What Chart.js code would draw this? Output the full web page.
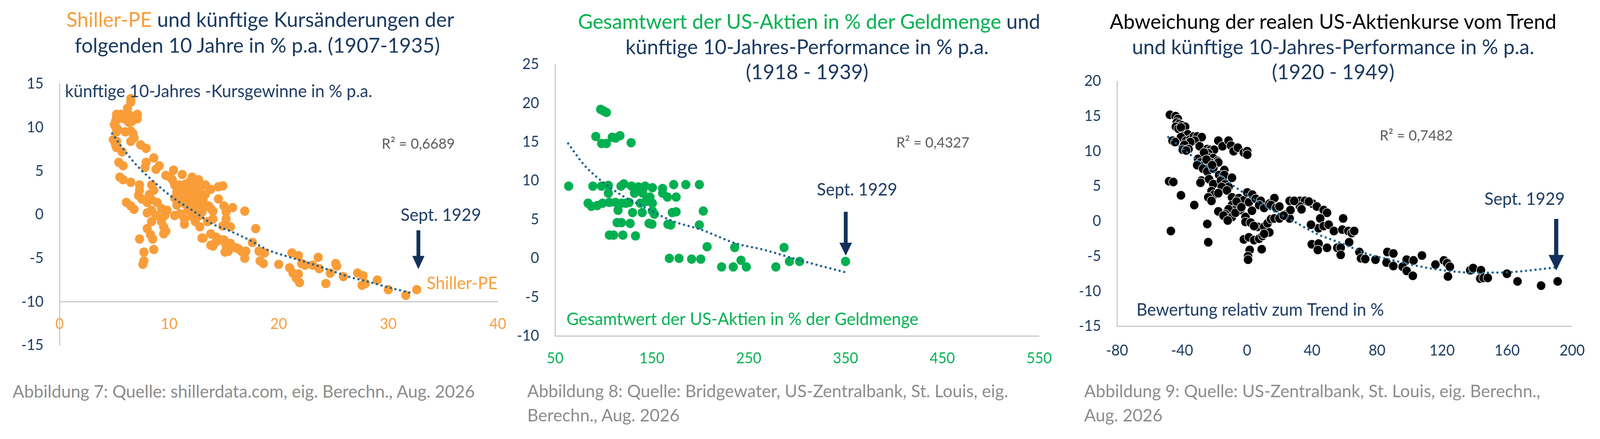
<!DOCTYPE html>
<html>
<head>
<meta charset="utf-8">
<script src="https://cdn.jsdelivr.net/npm/chart.js@4.4.1/dist/chart.umd.min.js"></script>
<style>
  html, body { margin: 0; padding: 0; overflow: hidden; background: #fff; }
  #page { position: absolute; left: 0; top: 0; width: 4191px; height: 1125px; background: #fff; transform-origin: 0 0; font-family: Lato, "Open Sans", sans-serif; }
  .title { position: absolute; text-align: center; font-size: 53px; line-height: 66px; color: #1b3a61; white-space: nowrap; }
  .cap { position: absolute; font-size: 45px; line-height: 62px; color: #8c8c8c; white-space: nowrap; }
  canvas { position: absolute; }
</style>
</head>
<body>
<div id="page">
<div class="title" style="left:174px;width:1000px;top:16px"><span style="color:#f99d39">Shiller-PE</span> und künftige Kursänderungen der<br>folgenden 10 Jahre in % p.a. (1907-1935)</div>
<div class="title" style="left:1514px;width:1200px;top:22px;line-height:64.5px"><span style="color:#00b050">Gesamtwert der US-Aktien in % der Geldmenge</span> und<br>künftige 10-Jahres-Performance in % p.a.<br>(1918 - 1939)</div>
<div class="title" style="left:2892px;width:1200px;top:22px;line-height:64.5px"><span style="color:#000">Abweichung der realen US-Aktienkurse vom Trend</span><br>und künftige 10-Jahres-Performance in % p.a.<br>(1920 - 1949)</div>

<canvas id="peChart" width="1360" height="800" style="left:0px;top:150px"></canvas>
<canvas id="moneyChart" width="1450" height="880" style="left:1340px;top:100px"></canvas>
<canvas id="trendChart" width="1391" height="880" style="left:2800px;top:100px"></canvas>

<div class="cap" style="left:33px;top:971px">Abbildung 7: Quelle: shillerdata.com, eig. Berechn., Aug. 2026</div>
<div class="cap" style="left:1381px;top:970px">Abbildung 8: Quelle: Bridgewater, US-Zentralbank, St. Louis, eig.<br>Berechn., Aug. 2026</div>
<div class="cap" style="left:2840px;top:970px">Abbildung 9: Quelle: US-Zentralbank, St. Louis, eig. Berechn.,<br>Aug. 2026</div>
</div>

<script>
// the window can be narrower than the 4191px layout, so squeeze it to fit
const page = document.getElementById('page');
const fitX = Math.min(1, window.innerWidth / 4191);
page.style.transform = 'scale(' + fitX + ', 1)';

// Abb. 7: Shiller-PE (x) vs. künftige 10-Jahres-Kursgewinne in % p.a. (y)
const pePoints = [
  [6.5,13.3],[6.5,12.9],[6.2,12.2],[5.2,11.5],[5.6,11.5],[5.1,10.7],[5.0,10.3],[5.2,11.2],[5.4,11.0],[5.8,11.1],
  [6.0,11.2],[6.4,11.4],[6.7,11.2],[7.1,11.5],[7.1,11.0],[6.6,10.7],[6.3,10.6],[5.9,11.0],[5.3,9.8],[5.2,9.5],
  [5.1,10.1],[6.0,9.5],[6.5,9.6],[6.7,9.3],[6.8,8.8],[6.5,8.4],[4.9,8.6],[5.2,8.4],[5.1,8.0],[5.2,7.7],
  [5.7,7.2],[5.4,6.0],[5.8,5.6],[7.4,8.0],[7.9,7.6],[8.6,6.5],[7.9,6.0],[7.8,5.4],[8.8,5.2],[9.1,5.6],
  [5.5,4.3],[5.8,4.0],[6.5,3.7],[7.3,3.4],[7.3,2.8],[7.2,2.2],[7.5,1.8],[8.0,1.4],[8.4,3.4],[8.6,2.8],
  [8.2,2.3],[8.4,1.7],[6.1,1.4],[6.5,1.0],[6.8,0.6],[8.0,0.2],[8.4,0.5],[8.8,-0.1],[8.4,-0.8],[8.0,-1.6],
  [8.3,-2.3],[8.5,-2.8],[7.3,-2.8],[7.7,-4.3],[8.6,-4.0],[7.7,-5.3],[7.6,-5.7],[8.9,1.4],[9.3,0.7],[9.8,0.5],
  [9.6,-0.1],[9.3,-0.8],[9.5,-1.4],[9.7,-1.9],[9.5,-2.2],[10.4,5.1],[9.7,4.5],[10.1,4.3],[11.2,4.6],[10.3,4.0],
  [12.1,4.3],[12.7,4.0],[13.3,3.4],[13.8,2.9],[14.5,3.2],[14.9,3.3],[10.5,3.4],[11.0,3.4],[11.5,3.5],[12.1,3.2],
  [12.6,3.4],[10.7,2.6],[11.4,2.8],[12.1,2.6],[12.8,2.6],[13.3,2.3],[10.5,1.9],[11.0,2.2],[11.7,2.0],[12.4,2.0],
  [13.1,1.7],[10.7,1.1],[11.4,1.3],[12.1,1.3],[12.9,1.1],[13.6,1.0],[13.8,0.7],[14.0,0.4],[11.7,0.5],[12.4,0.7],
  [11.0,0.1],[10.5,-0.1],[11.4,-0.5],[12.1,-0.2],[12.8,-0.1],[11.4,-1.1],[12.4,-0.8],[12.8,-1.4],[13.5,-0.8],[14.0,-0.5],
  [14.5,1.8],[15.0,1.0],[15.2,0.3],[15.8,0.8],[16.9,0.4],[15.2,-0.5],[14.9,-1.3],[15.6,-1.4],[13.1,-2.7],[13.8,-2.2],
  [14.3,-2.6],[13.8,-3.5],[14.7,-2.9],[15.0,-2.9],[15.2,-3.6],[15.6,-3.3],[16.1,-3.8],[16.6,-4.2],[17.0,-4.2],[16.9,-5.0],
  [15.4,-4.2],[14.3,-3.1],[14.0,-3.6],[13.0,-2.7],[16.3,-3.9],[15.1,-4.3],[11.9,3.8],[12.3,1.6],[11.1,1.6],[13.0,0.3],
  [17.9,-1.6],[17.6,-3.2],[18.2,-4.2],[18.7,-4.4],[18.3,-5.3],[18.6,-5.6],[20.0,-5.7],[21.2,-4.4],[21.8,-4.7],[21.0,-6.1],
  [21.3,-6.7],[21.8,-6.8],[21.6,-7.3],[21.9,-7.8],[22.1,-5.6],[22.4,-5.8],[23.1,-5.8],[23.6,-4.9],[23.7,-6.2],[24.3,-7.9],
  [24.7,-6.7],[25.2,-5.6],[25.3,-5.9],[25.9,-7.1],[27.2,-6.7],[27.7,-7.0],[27.6,-8.1],[27.9,-7.9],[29.0,-7.5],[30.0,-8.6],
  [31.6,-9.25],[32.6,-8.6]
];
const peTrendX = [4.8, 5.6, 6.4, 7.3, 8.4, 9.3, 10.5, 12.1, 14.0, 15.6, 17.3, 19.1, 20.8, 22.9, 25.2, 26.6, 28.2, 29.9, 32.3];
const peTrendY = [9.3, 7.9, 6.6, 5.3, 4.0, 3.0, 1.8, 0.5, -1.1, -1.9, -2.9, -4.1, -4.8, -5.6, -6.6, -7.2, -7.7, -8.3, -9.05];

// Abb. 8: Gesamtwert der US-Aktien in % der Geldmenge (x) vs. 10-Jahres-Performance (y)
const moneyPoints = [
  [64,9.3],[97,19.2],[100,19.0],[103,18.8],[92,15.7],[98,14.8],[103,14.8],[109,15.6],[112.5,15.5],[117,15.8],
  [128.5,14.9],[89,9.3],[98,9.3],[105,9.4],[105,8.4],[118,9.3],[121,9.6],[129,9.3],[132,8.4],[136,9.2],
  [140.5,8.4],[143,9.3],[150.5,9.1],[161,9.0],[161,8.4],[166,7.9],[172.5,9.5],[175,7.9],[185,9.5],[199,9.5],
  [84,7.1],[87.5,6.7],[93.5,6.8],[99,7.1],[106,7.2],[112.5,7.2],[118.5,7.1],[123,7.1],[126.5,7.2],[138,7.1],
  [143.5,7.3],[148,7.9],[150.5,7.1],[115,6.2],[130,5.9],[140,5.9],[150.5,6.1],[152.5,5.7],[171,5.9],[175,6.0],
  [203,6.1],[114,4.6],[118.5,4.6],[127.5,4.5],[147,4.5],[150,4.4],[166.5,4.4],[169.5,4.3],[199,4.3],[106,3.0],
  [110.5,3.0],[120,3.0],[133,2.9],[207,1.5],[235.5,1.4],[286.5,1.4],[168,0],[178,0],[191,-0.1],[200.5,-0.1],
  [222,-1.1],[234,-1.1],[242,-0.25],[247.5,-1.1],[278,-1.1],[292,-0.4],[302.5,-0.4],[350,-0.4]
];
const moneyTrendX = [63.5, 79.5, 93.7, 106.1, 120.3, 134.5, 155.8, 173.6, 198.4, 237.5, 265.9, 290.7, 319.2, 350];
const moneyTrendY = [14.8, 12.1, 10.4, 9.2, 8.0, 7.1, 5.7, 4.7, 3.8, 1.9, 1.1, 0.2, -0.8, -1.8];

// Abb. 9: Bewertung relativ zum Trend in % (x) vs. 10-Jahres-Performance (y)
const trendDevPoints = [
  [-47.5,15.2],[-44.0,15.0],[-42.6,14.6],[-43.3,14.1],[-41.7,13.9],[-40.1,13.7],[-38.1,13.5],[-43.8,13.5],[-42.2,13.2],[-40.7,13.4],
  [-39.4,12.2],[-36.5,12.4],[-40.7,12.0],[-37.5,11.5],[-34.9,11.7],[-32.8,12.1],[-30.7,12.1],[-27.9,12.0],[-32.3,11.5],[-34.9,11.3],
  [-45.9,11.5],[-44.3,11.3],[-38.6,10.9],[-36.0,10.3],[-39.6,10.2],[-37.5,10.1],[-29.2,10.7],[-24.5,10.3],[-22.4,10.2],[-20.3,10.2],
  [-17.7,11.5],[-15.1,10.7],[-11.4,11.5],[-9.9,10.8],[-8.3,10.0],[-5.7,10.5],[-2.0,9.8],[0.1,10.0],[0.1,9.5],[-23.9,9.7],
  [-26.0,9.3],[-23.4,9.1],[-20.8,9.0],[-18.2,8.6],[-30.2,8.9],[-28.7,8.4],[-26.0,8.2],[-22.9,8.4],[-19.8,8.0],[-17.7,8.4],
  [-30.7,8.0],[-27.1,7.5],[-24.5,7.1],[-20.8,7.5],[-14.0,7.3],[-17.2,6.6],[-14.0,6.6],[-9.3,6.2],[-28.1,5.8],[-28.7,5.5],
  [-23.4,6.0],[-20.8,5.3],[-16.1,5.8],[-13.5,5.3],[-11.4,4.9],[-15.6,4.9],[-12.4,4.4],[-21.9,4.3],[-20.3,3.8],[-23.9,3.4],
  [-21.9,2.9],[-17.7,4.0],[-48.0,5.7],[-45.4,5.6],[-40.7,3.7],[-32.5,2.3],[-24.5,-0.4],[-46.9,-1.4],[-23.9,-3.0],[-9.3,3.4],
  [-5.1,3.3],[-2.0,3.0],[1.1,2.7],[0.1,4.1],[3.2,3.8],[5.3,3.2],[8.4,2.9],[7.4,2.3],[10.5,1.9],[13.7,2.5],
  [16.8,3.3],[14.7,2.3],[17.9,1.9],[19.9,2.1],[-9.3,2.3],[-7.2,1.7],[-4.1,1.6],[-11.4,1.7],[-13.5,1.0],[-17.7,1.4],
  [-14.5,0.8],[-9.3,0.6],[-11.9,0.1],[-7.2,1.2],[-1.0,0.6],[-1.0,-0.1],[2.2,-0.2],[6.4,-0.8],[4.3,-0.7],[10.5,-0.8],
  [12.6,-0.3],[14.7,0.3],[16.8,0.4],[19.9,0.4],[24.1,1.0],[26.2,0.4],[26.7,1.6],[26.2,2.9],[32.5,2.9],[35.6,2.9],
  [32.5,2.1],[33.5,1.7],[40.3,2.5],[42.9,2.1],[47.1,1.6],[49.2,1.2],[45.0,0.4],[44.0,-1.0],[47.1,-0.7],[50.2,-0.5],
  [53.4,-1.4],[58.6,-1.2],[62.3,-1.4],[64.4,-1.7],[65.9,-1.4],[59.1,0.4],[-2.0,-2.6],[1.1,-2.3],[4.3,-2.7],[7.4,-2.5],
  [9.5,-2.1],[13.7,-1.6],[10.5,-1.8],[9.0,-4.0],[1.6,-4.1],[0.6,-5.0],[0.6,-5.5],[39.3,-0.5],[39.8,-3.3],[44.0,-3.2],
  [43.5,-4.1],[49.2,-3.8],[55.5,-3.8],[57.6,-3.8],[57.6,-4.8],[62.8,-3.0],[69.1,-4.4],[70.1,-5.3],[72.7,-5.4],[79.0,-5.5],
  [86.3,-4.4],[90.0,-4.6],[85.8,-5.9],[90.0,-6.4],[98.2,-5.5],[95.7,-6.5],[98.2,-7.1],[102.0,-7.8],[102.4,-5.6],[107.6,-4.9],
  [115.9,-6.2],[121.1,-5.6],[123.1,-6.0],[124.8,-6.5],[123.6,-7.9],[137.3,-7.0],[139.1,-6.7],[143.9,-7.0],[143.5,-8.2],[145.5,-8.1],
  [148.1,-8.1],[159.9,-7.5],[166.4,-8.6],[180.9,-9.2],[191.1,-8.6],
  [-26.5,9.8],[-25.0,8.8],[-21.5,8.0],[-6.5,2.8],[3.0,1.5],[-3.5,2.0],[22.5,0.8],[29.0,2.9],[38.0,2.8]
];
const trendDevTrendX = [-48.5, -35.5, -25, -16, -9.3, 1, 14.7, 26.2, 42.9, 58.6, 74.3, 90, 105, 120, 140, 160, 177, 190];
const trendDevTrendY = [12.0, 9.6, 7.8, 6.4, 5.2, 3.6, 1.65, 0.3, -1.8, -3.2, -4.7, -5.6, -6.4, -7.0, -7.35, -7.3, -6.95, -6.6];

const fontFam = 'Lato, "Open Sans", sans-serif';
const navy = '#1b3a61';
const arrowNavy = '#12315a';
const axisGray = '#bfbfbf';
const trendBlue = '#1d6390';
const orange = '#f99d39';
const green = '#00b050';

// draws the texts and the arrow at data coordinates
const notesPlugin = {
  id: 'notes',
  afterDatasetsDraw(chart, args, opts) {
    const ctx = chart.ctx;
    const sx = chart.scales.x;
    const sy = chart.scales.y;
    ctx.save();
    (opts.texts || []).forEach(t => {
      ctx.font = t.size + 'px ' + fontFam;
      ctx.fillStyle = t.color;
      ctx.textAlign = t.align || 'left';
      ctx.textBaseline = 'middle';
      ctx.fillText(t.text, sx.getPixelForValue(t.x), sy.getPixelForValue(t.y));
    });
    if (opts.arrow) {
      const a = opts.arrow;
      const ax = sx.getPixelForValue(a.x);
      const top = sy.getPixelForValue(a.top);
      const tip = sy.getPixelForValue(a.tip);
      ctx.fillStyle = arrowNavy;
      ctx.fillRect(ax - a.shaft / 2, top, a.shaft, tip - top - a.head + 2);
      ctx.beginPath();
      ctx.moveTo(ax - a.headW / 2, tip - a.head);
      ctx.lineTo(ax + a.headW / 2, tip - a.head);
      ctx.lineTo(ax, tip);
      ctx.closePath();
      ctx.fill();
    }
    ctx.restore();
  }
};

// x axis is always put at a y value, so it takes no layout room
function axisX(min, max, step, color, atY, pad) {
  return {
    type: 'linear',
    position: {y: atY},
    min: min,
    max: max,
    ticks: {stepSize: step, color: color, padding: pad, maxRotation: 0, autoSkip: false,
      font: {family: fontFam, size: 38}},
    grid: {display: false, drawTicks: false},
    border: {display: true, color: axisGray, width: 2.5}
  };
}

function axisY(min, max, step, w) {
  return {
    type: 'linear',
    position: 'left',
    min: min,
    max: max,
    ticks: {stepSize: step, color: navy, padding: 42, font: {family: fontFam, size: 38}},
    grid: {display: false, drawTicks: false},
    border: {display: true, color: axisGray, width: 2.5},
    afterFit: function (s) { s.width = w; }
  };
}

function pointSet(pts, color, edge) {
  return {
    type: 'scatter',
    data: pts.map(p => ({x: p[0], y: p[1]})),
    backgroundColor: color,
    borderColor: edge || color,
    borderWidth: edge ? 1.5 : 0,
    pointRadius: 12,
    pointHoverRadius: 12,
    order: 1
  };
}

function trendSet(xs, ys) {
  return {
    type: 'line',
    data: xs.map((x, i) => ({x: x, y: ys[i]})),
    borderColor: trendBlue,
    borderWidth: 6,
    borderDash: [0, 12.5],
    borderCapStyle: 'round',
    pointRadius: 0,
    fill: false,
    cubicInterpolationMode: 'monotone',
    order: 0
  };
}

function makeChart(id, datasets, scales, padding, notes) {
  return new Chart(document.getElementById(id).getContext('2d'), {
    type: 'scatter',
    data: {datasets: datasets},
    options: {
      responsive: false,
      animation: false,
      layout: {padding: padding},
      scales: scales,
      plugins: {legend: {display: false}, tooltip: {enabled: false}, notes: notes}
    },
    plugins: [notesPlugin]
  });
}

const peChart = makeChart('peChart',
  [trendSet(peTrendX, peTrendY), pointSet(pePoints, orange)],
  {x: axisX(0, 40, 10, orange, -10, 34), y: axisY(-15, 15, 5, 156)},
  {top: 47, bottom: 33, left: 0, right: 39},
  {
    texts: [
      {text: 'künftige 10-Jahres -Kursgewinne in % p.a.', x: 0.5, y: 14.1, size: 44, color: navy},
      {text: 'R² = 0,6689', x: 29.4, y: 8.1, size: 37, color: '#595959'},
      {text: 'Sept. 1929', x: 34.8, y: -0.1, size: 44, color: navy, align: 'center'},
      {text: 'Shiller-PE', x: 33.5, y: -7.9, size: 44, color: orange}
    ],
    arrow: {x: 32.75, top: -1.8, tip: -6.25, shaft: 10, head: 34, headW: 32}
  });

const moneyChart = makeChart('moneyChart',
  [trendSet(moneyTrendX, moneyTrendY), pointSet(moneyPoints, green)],
  {x: axisX(50, 550, 100, green, -10, 35), y: axisY(-10, 25, 5, 114)},
  {top: 35, bottom: 119, left: 0, right: 52},
  {
    texts: [
      {text: 'R² = 0,4327', x: 402.4, y: 14.9, size: 37, color: '#595959'},
      {text: 'Sept. 1929', x: 361.9, y: 8.8, size: 44, color: navy, align: 'center'},
      {text: 'Gesamtwert der US-Aktien in % der Geldmenge', x: 61.7, y: -7.9, size: 44, color: green}
    ],
    arrow: {x: 350.2, top: 6.0, tip: 0.36, shaft: 10, head: 33, headW: 33}
  });

const trendChart = makeChart('trendChart',
  [trendSet(trendDevTrendX, trendDevTrendY), pointSet(trendDevPoints, '#000000', '#ffffff')],
  {x: axisX(-80, 200, 40, navy, -15, 40), y: axisY(-15, 20, 5, 126)},
  {top: 108, bottom: 144, left: 0, right: 69},
  {
    texts: [
      {text: 'R² = 0,7482', x: 81.6, y: 12.2, size: 37, color: '#595959'},
      {text: 'Sept. 1929', x: 170.8, y: 3.1, size: 44, color: navy, align: 'center'},
      {text: 'Bewertung relativ zum Trend in %', x: -68.1, y: -12.7, size: 44, color: navy}
    ],
    arrow: {x: 190.2, top: 0.33, tip: -7.04, shaft: 11, head: 40, headW: 40}
  });
</script>
</body>
</html>
